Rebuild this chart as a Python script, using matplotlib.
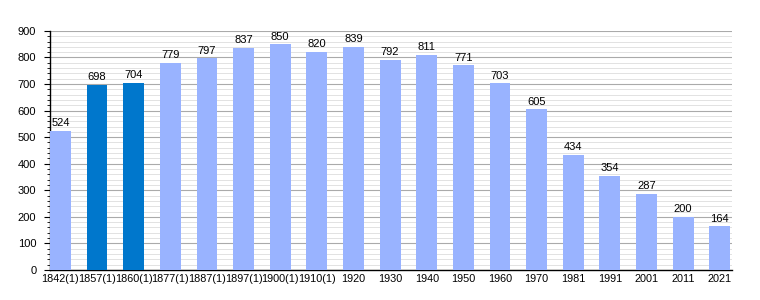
import matplotlib.pyplot as plt
from matplotlib.ticker import MultipleLocator

plt.rcParams['font.family'] = ['Liberation Sans', 'DejaVu Sans']

years = ['1842(1)', '1857(1)', '1860(1)', '1877(1)', '1887(1)', '1897(1)', '1900(1)',
         '1910(1)', '1920', '1930', '1940', '1950', '1960', '1970', '1981', '1991',
         '2001', '2011', '2021']
population = [524, 698, 704, 779, 797, 837, 850, 820, 839, 792, 811, 771, 703, 605,
              434, 354, 287, 200, 164]
highlight = ['1857(1)', '1860(1)']

colors = ['#0077cc' if y in highlight else '#99b3ff' for y in years]

fig = plt.figure(figsize=(7.6, 3.0), dpi=100)
ax = fig.add_axes([0.066, 0.1, 0.897, 0.797])

x = range(len(years))
ax.bar(x, population, width=0.57, color=colors, zorder=3)
for i, v in enumerate(population):
    ax.text(i, v + 10, str(v), ha='center', va='bottom', fontsize=8, zorder=4)

ax.set_ylim(0, 900)
ax.set_xlim(-0.28, len(years) - 0.67)
ax.yaxis.set_major_locator(MultipleLocator(100))
ax.yaxis.set_minor_locator(MultipleLocator(20))
ax.grid(axis='y', which='major', color='#aaaaaa', linewidth=0.8, zorder=0)
ax.grid(axis='y', which='minor', color='#dddddd', linewidth=0.6, zorder=0)
ax.set_xticks(list(x))
ax.set_xticklabels(years, fontsize=7.8)
ax.tick_params(axis='x', length=0, pad=3)
ax.tick_params(axis='y', which='major', labelsize=8, length=4, direction='out', pad=6)
ax.tick_params(axis='y', which='minor', length=2, direction='out')
for s in ['top', 'right']:
    ax.spines[s].set_visible(False)
ax.spines['left'].set_linewidth(1.0)
ax.spines['bottom'].set_linewidth(1.0)

plt.savefig('out.png', dpi=100)
